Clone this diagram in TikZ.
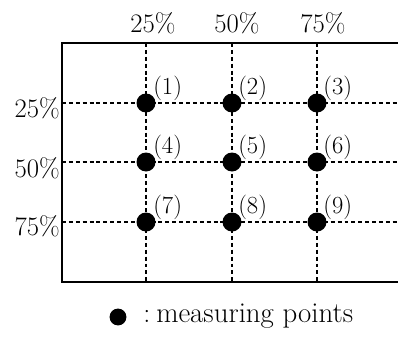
\documentclass[tikz,border=0pt]{standalone}
\usepackage{amsmath, amssymb}
\usepackage{tikz}
\usetikzlibrary{calc}

\begin{document}
\begin{tikzpicture}[x=0.025cm, y=-0.025cm,
    frame/.style={line width=1.6pt},
    gridline/.style={line width=0.8pt, dash pattern=on 2.8pt off 2.1pt},
    dot/.style={circle, fill=black, inner sep=0pt, minimum size=13.5pt},
    pct/.style={inner sep=0pt, font=\fontsize{19}{21}\selectfont},
    num/.style={anchor=base west, inner sep=0pt, font=\fontsize{17.5}{20}\selectfont}]
  \useasboundingbox (0,0) rectangle (398,338);

  % grid through the measuring points
  \draw[gridline] (146,43) -- (146,282);
  \draw[gridline] (232,43) -- (232,282);
  \draw[gridline] (317,43) -- (317,282);
  \draw[gridline] (62,103) -- (398,103);
  \draw[gridline] (62,162) -- (398,162);
  \draw[gridline] (62,222) -- (398,222);

  % cross-section outline
  \draw[frame] (400,43) -- (62,43) -- (62,282) -- (400,282);

  % axis labels
  \node[pct, anchor=base] (c1) at (153,32) {25\%};
  \node[pct, anchor=base] (c2) at (237,32) {50\%};
  \node[pct, anchor=base] (c3) at (323,32) {75\%};
  \node[pct, anchor=base east] (r1) at (60,117) {25\%};
  \node[pct, anchor=base east] (r2) at (60,177) {50\%};
  \node[pct, anchor=base east] (r3) at (60,235) {75\%};

  % measuring points
  \node[dot] (p1) at (146,103) {};
  \node[dot] (p2) at (232,103) {};
  \node[dot] (p3) at (317,103) {};
  \node[dot] (p4) at (146,162) {};
  \node[dot] (p5) at (232,162) {};
  \node[dot] (p6) at (317,162) {};
  \node[dot] (p7) at (146,222) {};
  \node[dot] (p8) at (232,222) {};
  \node[dot] (p9) at (317,222) {};

  \node[num] (n1) at (153,94) {(1)};
  \node[num] (n2) at (238,94) {(2)};
  \node[num] (n3) at (323,94) {(3)};
  \node[num] (n4) at (153,153) {(4)};
  \node[num] (n5) at (238,153) {(5)};
  \node[num] (n6) at (323,153) {(6)};
  \node[num] (n7) at (153,213) {(7)};
  \node[num] (n8) at (238,213) {(8)};
  \node[num] (n9) at (323,213) {(9)};

  % legend
  \node[dot, minimum size=12pt] (key) at (118,317) {};
  \node[inner sep=0pt, anchor=base, font=\fontsize{20}{22}\selectfont] (colon) at (147,322) {:};
  \node[inner sep=0pt, anchor=base west, font=\fontsize{20.5}{22}\selectfont] (keytext) at (156,322) {measuring points};
\end{tikzpicture}
\end{document}
